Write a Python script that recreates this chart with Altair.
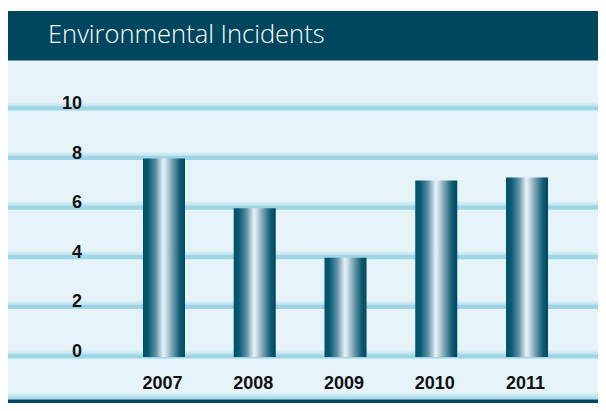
import altair as alt
import pandas as pd

# ---- data ----
years = ["2007", "2008", "2009", "2010", "2011"]
incidents = [8, 6, 4, 7.12, 7.24]
tick_values = [0, 2, 4, 6, 8, 10]
tick_labels = ["0", "2", "4", "6", "8", "10"]
title_text = ["Environmental Incidents"]

bars_df = pd.DataFrame({"year": years, "value": incidents})
ticks_df = pd.DataFrame({"tick": tick_values, "label": tick_labels})
title_df = pd.DataFrame({"t": title_text})
one = pd.DataFrame({"a": [0]})

W, H = 590, 395
BG = "#e6f4f9"
DARK = "#00465f"
LINE = "#9dd5e7"

y_scale = alt.Scale(domain=[0, 10], range=[349, 101], nice=False, zero=True)
x_scale = alt.Scale(domain=years, range=[110.6, 564.4], paddingInner=0.537, paddingOuter=0.2685)

bar_grad = {
    "gradient": "linear", "x1": 0, "x2": 1, "y1": 0, "y2": 0,
    "stops": [
        {"offset": 0.0, "color": "#00506a"},
        {"offset": 0.12, "color": "#085a72"},
        {"offset": 0.3, "color": "#5b90a4"},
        {"offset": 0.48, "color": "#e4f0f4"},
        {"offset": 0.53, "color": "#d6e6ec"},
        {"offset": 0.72, "color": "#6896a8"},
        {"offset": 0.88, "color": "#0f5c73"},
        {"offset": 1.0, "color": "#004860"},
    ],
}
grid_grad = {
    "gradient": "linear", "x1": 0, "x2": 0, "y1": 0, "y2": 1,
    "stops": [
        {"offset": 0.0, "color": BG},
        {"offset": 0.5, "color": "#bde3ef"},
        {"offset": 0.6, "color": LINE},
        {"offset": 1.0, "color": LINE},
    ],
}
foot_grad = {
    "gradient": "linear", "x1": 0, "x2": 0, "y1": 0, "y2": 1,
    "stops": [
        {"offset": 0.0, "color": BG},
        {"offset": 1.0, "color": LINE},
    ],
}

bg = alt.Chart(one).mark_rect(fill=BG).encode(
    x=alt.value(0), x2=alt.value(W), y=alt.value(3), y2=alt.value(H))
header = alt.Chart(one).mark_rect(fill=DARK).encode(
    x=alt.value(0), x2=alt.value(W), y=alt.value(3), y2=alt.value(52.5))
foot_fade = alt.Chart(one).mark_rect(fill=foot_grad).encode(
    x=alt.value(0), x2=alt.value(W), y=alt.value(384), y2=alt.value(391.5))
footer = alt.Chart(one).mark_rect(fill=DARK).encode(
    x=alt.value(0), x2=alt.value(W), y=alt.value(391.5), y2=alt.value(H))

grid = alt.Chart(ticks_df).mark_rect(fill=grid_grad, yOffset=-7.5, y2Offset=1.5).encode(
    y=alt.Y("tick:Q", scale=y_scale, axis=None),
    y2=alt.Y2("tick:Q"),
    x=alt.value(0), x2=alt.value(W))

bars = alt.Chart(bars_df).mark_bar(fill=bar_grad, strokeWidth=0).encode(
    x=alt.X("year:N", scale=x_scale, axis=None),
    y=alt.Y("value:Q", scale=y_scale, axis=None))

ylabels = alt.Chart(ticks_df).mark_text(
    align="right", baseline="alphabetic", fontSize=18, fontWeight="bold",
    font="Liberation Sans", color="#111111").encode(
    y=alt.Y("tick:Q", scale=y_scale, axis=None),
    x=alt.value(74), text="label:N")

xlabels = alt.Chart(bars_df).mark_text(
    align="center", baseline="alphabetic", fontSize=18, fontWeight="bold",
    font="Liberation Sans", color="#111111", dx=-1.5).encode(
    x=alt.X("year:N", scale=x_scale, axis=None),
    y=alt.value(381), text="year:N")

title = alt.Chart(title_df).mark_text(
    align="left", baseline="alphabetic", fontSize=25.5, font="Open Sans",
    fontWeight=300, color="white").encode(
    x=alt.value(40), y=alt.value(35), text="t:N")

chart = alt.layer(bg, header, foot_fade, footer, grid, bars, ylabels, xlabels, title).properties(
    width=W, height=H, autosize=alt.AutoSizeParams(type="none"), padding=0,
    background="white",
).configure_view(strokeWidth=0)

chart.save("out.html", embed_options={"renderer": "svg", "actions": False})
